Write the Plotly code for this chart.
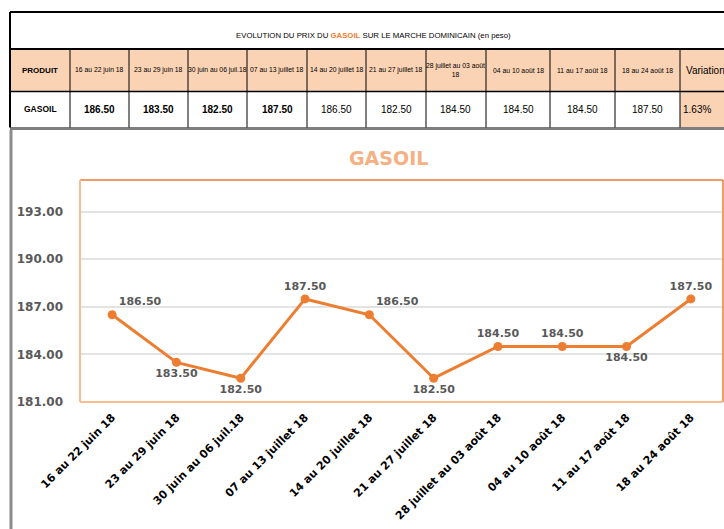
import plotly.graph_objects as go

# ---- data ----
categories = ["16 au 22 juin 18", "23 au 29 juin 18", "30 juin au 06 juil.18",
              "07 au 13 juillet 18", "14 au 20 juillet 18", "21 au 27 juillet 18",
              "28 juillet au 03 août 18", "04 au 10 août 18", "11 au 17 août 18",
              "18 au 24 août 18"]
table_headers = ["16 au 22 juin 18", "23 au 29 juin 18", "30 juin au 06 juil.18",
                 "07 au 13 juillet 18", "14 au 20 juillet 18", "21 au 27 juillet 18",
                 "28 juillet au 03 août<br>18", "04 au 10 août 18", "11 au 17 août 18",
                 "18 au 24 août 18"]
prices = [186.50, 183.50, 182.50, 187.50, 186.50, 182.50, 184.50, 184.50, 184.50, 187.50]
y_ticks = [181, 184, 187, 190, 193]
product = "GASOIL"
variation = (prices[-1] - prices[-2]) / prices[-2] * 100

W, H = 724, 529
def px(x): return x / W
def py(y): return 1 - y / H

TABF = "Liberation Sans, Arial, sans-serif"
BOLDF = "DejaVu Sans, Verdana, sans-serif"
PEACH = "#FAD3B4"
ORANGE = "#ED7D31"

label_pos = ["top right", "bottom center", "bottom center", "top center", "top right",
             "bottom center", "top center", "top center", "bottom center", "top center"]

fig = go.Figure()
fig.add_trace(go.Scatter(
    x=categories, y=prices, mode="lines+markers+text",
    line=dict(color=ORANGE, width=3),
    marker=dict(color=ORANGE, size=9),
    text=[f"{v:.2f}" for v in prices],
    textposition=label_pos,
    textfont=dict(family=BOLDF, size=11, color="#595959", weight="bold"),
    cliponaxis=False, hoverinfo="skip", showlegend=False,
))

shapes = []
annotations = []

def note(x, y, text, size, color="black", family=TABF, xanchor="center"):
    annotations.append(dict(x=px(x), y=py(y), xref="paper", yref="paper", showarrow=False,
                            xanchor=xanchor, yanchor="middle", text=text,
                            font=dict(family=family, size=size, color=color)))

# ---- table ----
col_edges = [10, 70, 129, 188, 247, 307, 366, 426, 486, 550, 615, 680, 740]
y_title_top, y_head_top, y_head_bot, y_row_bot = 12, 49, 91.5, 127.5

shapes.append(dict(type="rect", xref="paper", yref="paper", x0=px(10), x1=px(W),
                   y0=py(y_head_bot), y1=py(y_head_top), fillcolor=PEACH, line=dict(width=0), layer="below"))
shapes.append(dict(type="rect", xref="paper", yref="paper", x0=px(680), x1=px(W),
                   y0=py(y_row_bot), y1=py(y_head_bot), fillcolor=PEACH, line=dict(width=0), layer="below"))
for yy, w, c in [(y_title_top, 2, "black"), (y_head_top, 2, "black"), (y_head_bot, 1.5, "black"),
                 (y_row_bot + 1, 3, "#7F7F7F")]:
    shapes.append(dict(type="line", xref="paper", yref="paper", x0=px(10), x1=px(W),
                       y0=py(yy), y1=py(yy), line=dict(color=c, width=w)))
shapes.append(dict(type="line", xref="paper", yref="paper", x0=px(10), x1=px(10),
                   y0=py(y_title_top), y1=py(y_row_bot), line=dict(color="black", width=2)))
for xe in col_edges[1:-1]:
    shapes.append(dict(type="line", xref="paper", yref="paper", x0=px(xe), x1=px(xe),
                       y0=py(y_head_top), y1=py(y_row_bot), line=dict(color="black", width=1)))
shapes.append(dict(type="line", xref="paper", yref="paper", x0=px(11), x1=px(11),
                   y0=py(130), y1=py(H), line=dict(color="#8C8C8C", width=3)))

note(374, 36, f"EVOLUTION DU PRIX DU <b><span style='color:#ED7D31'>{product}</span></b> SUR LE MARCHE DOMINICAIN (en peso)", 7.8)

head_cy = (y_head_top + y_head_bot) / 2
row_cy = (y_head_bot + y_row_bot) / 2
note(40, head_cy, "<b>PRODUIT</b>", 8)
note(40, row_cy, f"<b>{product}</b>", 8.5)
for i, (h, v) in enumerate(zip(table_headers, prices)):
    cx = (col_edges[i + 1] + col_edges[i + 2]) / 2
    note(cx, head_cy, h, 6.8)
    t = f"{v:.2f}"
    if i < 4:
        t = f"<b>{t}</b>"
    note(cx, row_cy, t, 10)
note(684, head_cy, "Variation", 10, xanchor="left")
note(697, row_cy, f"{variation:.2f}%", 10)

note(388, 158, "<b>GASOIL</b>", 19, color="#F4B183", family=BOLDF)

X0, X1, Y0, Y1 = 80, 723, 180, 402
shapes.append(dict(type="line", xref="paper", yref="paper", x0=px(X0), x1=px(X1), y0=py(Y0), y1=py(Y0),
                   line=dict(color=ORANGE, width=1.5)))
shapes.append(dict(type="line", xref="paper", yref="paper", x0=px(X1), x1=px(X1), y0=py(Y0), y1=py(Y1),
                   line=dict(color=ORANGE, width=1.5)))
shapes.append(dict(type="line", xref="paper", yref="paper", x0=px(X0), x1=px(X0), y0=py(Y0), y1=py(Y1),
                   line=dict(color="#F8BE92", width=2)))
shapes.append(dict(type="line", xref="paper", yref="paper", x0=px(X0), x1=px(X1), y0=py(Y1), y1=py(Y1),
                   line=dict(color="#F8BE92", width=2)))

fig.update_layout(
    width=W, height=H, margin=dict(l=0, r=0, t=0, b=0, autoexpand=False),
    paper_bgcolor="white", plot_bgcolor="white",
    shapes=shapes, annotations=annotations,
    xaxis=dict(domain=[px(X0), px(X1)], range=[-0.5, 9.5], type="category", automargin=False,
               showgrid=False, zeroline=False, showline=False, ticks="",
               tickangle=-45, ticklabelstandoff=6,
               tickfont=dict(family=BOLDF, size=11, color="black", weight="bold")),
    yaxis=dict(domain=[py(Y1), py(Y0)], range=[181, 195], tickvals=y_ticks, automargin=False,
               ticktext=[f"{t:.2f}" for t in y_ticks],
               showgrid=True, gridcolor="#E3E3E3", gridwidth=1.5, zeroline=False, showline=False,
               ticks="", ticklabelstandoff=16,
               tickfont=dict(family=BOLDF, size=12, color="#595959", weight="bold")),
)

fig.write_html("out.html")
